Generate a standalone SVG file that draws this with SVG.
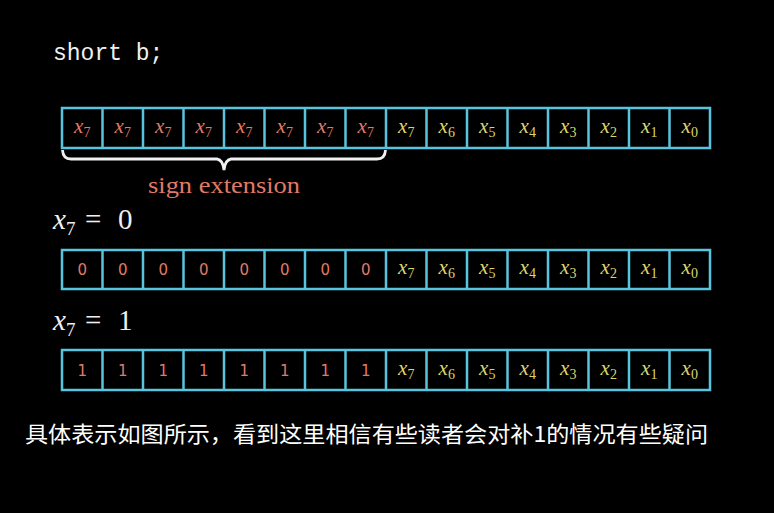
<svg xmlns="http://www.w3.org/2000/svg" width="774" height="513" viewBox="0 0 774 513">
<style>
.cell{fill:none;stroke:#58c4dd;stroke-width:2.5}
.v{font-family:"Liberation Serif","DejaVu Serif",serif;font-size:21px;text-anchor:middle}
.v .x{font-style:italic}
.v .s{font-size:14px}
.r{fill:#e07a68}
.y{fill:#dcd46c}
.d{font-family:"DejaVu Sans","Liberation Sans",sans-serif;font-size:15px;text-anchor:middle;fill:#e07a68}
.eq{font-family:"Liberation Serif","DejaVu Serif",serif;font-size:29px;fill:#f0f0f0}
</style>
<rect width="774" height="513" fill="#000"/>
<text x="53" y="60" font-family="Liberation Mono,monospace" font-size="23" fill="#f0f0f0">short b;</text>

<g id="row1">
<rect x="62" y="108" width="648" height="40" class="cell"/>
<path class="cell" d="M102.5 108V148M143 108V148M183.5 108V148M224 108V148M264.5 108V148M305 108V148M345.5 108V148M386 108V148M426.5 108V148M467 108V148M507.5 108V148M548 108V148M588.5 108V148M629 108V148M669.5 108V148"/>
<text class="v r" x="82.25" y="133"><tspan class="x">x</tspan><tspan class="s" dy="4">7</tspan></text>
<text class="v r" x="122.75" y="133"><tspan class="x">x</tspan><tspan class="s" dy="4">7</tspan></text>
<text class="v r" x="163.25" y="133"><tspan class="x">x</tspan><tspan class="s" dy="4">7</tspan></text>
<text class="v r" x="203.75" y="133"><tspan class="x">x</tspan><tspan class="s" dy="4">7</tspan></text>
<text class="v r" x="244.25" y="133"><tspan class="x">x</tspan><tspan class="s" dy="4">7</tspan></text>
<text class="v r" x="284.75" y="133"><tspan class="x">x</tspan><tspan class="s" dy="4">7</tspan></text>
<text class="v r" x="325.25" y="133"><tspan class="x">x</tspan><tspan class="s" dy="4">7</tspan></text>
<text class="v r" x="365.75" y="133"><tspan class="x">x</tspan><tspan class="s" dy="4">7</tspan></text>
<text class="v y" x="406.25" y="133"><tspan class="x">x</tspan><tspan class="s" dy="4">7</tspan></text>
<text class="v y" x="446.75" y="133"><tspan class="x">x</tspan><tspan class="s" dy="4">6</tspan></text>
<text class="v y" x="487.25" y="133"><tspan class="x">x</tspan><tspan class="s" dy="4">5</tspan></text>
<text class="v y" x="527.75" y="133"><tspan class="x">x</tspan><tspan class="s" dy="4">4</tspan></text>
<text class="v y" x="568.25" y="133"><tspan class="x">x</tspan><tspan class="s" dy="4">3</tspan></text>
<text class="v y" x="608.75" y="133"><tspan class="x">x</tspan><tspan class="s" dy="4">2</tspan></text>
<text class="v y" x="649.25" y="133"><tspan class="x">x</tspan><tspan class="s" dy="4">1</tspan></text>
<text class="v y" x="689.75" y="133"><tspan class="x">x</tspan><tspan class="s" dy="4">0</tspan></text>
</g>

<g id="brace">
<path d="M62.5 150Q63 159 71 159L217 159Q223 160 224 170Q225 160 231 159L377 159Q385 159 385.5 150" fill="none" stroke="#f0f0f0" stroke-width="2.8"/>
<text x="224" y="193" font-family="Liberation Serif,serif" font-size="23" fill="#e07a68" text-anchor="middle" textLength="152" lengthAdjust="spacingAndGlyphs">sign extension</text>
</g>

<g id="label0"><text class="eq" y="229"><tspan x="53" font-style="italic">x</tspan><tspan font-size="19" dy="6">7</tspan><tspan x="85" dy="-6">=</tspan><tspan x="118">0</tspan></text></g>

<g id="row2">
<rect x="62" y="250" width="648" height="39" class="cell"/>
<path class="cell" d="M102.5 250V289M143 250V289M183.5 250V289M224 250V289M264.5 250V289M305 250V289M345.5 250V289M386 250V289M426.5 250V289M467 250V289M507.5 250V289M548 250V289M588.5 250V289M629 250V289M669.5 250V289"/>
<text class="d" x="82.25" y="275">0</text>
<text class="d" x="122.75" y="275">0</text>
<text class="d" x="163.25" y="275">0</text>
<text class="d" x="203.75" y="275">0</text>
<text class="d" x="244.25" y="275">0</text>
<text class="d" x="284.75" y="275">0</text>
<text class="d" x="325.25" y="275">0</text>
<text class="d" x="365.75" y="275">0</text>
<text class="v y" x="406.25" y="274"><tspan class="x">x</tspan><tspan class="s" dy="4">7</tspan></text>
<text class="v y" x="446.75" y="274"><tspan class="x">x</tspan><tspan class="s" dy="4">6</tspan></text>
<text class="v y" x="487.25" y="274"><tspan class="x">x</tspan><tspan class="s" dy="4">5</tspan></text>
<text class="v y" x="527.75" y="274"><tspan class="x">x</tspan><tspan class="s" dy="4">4</tspan></text>
<text class="v y" x="568.25" y="274"><tspan class="x">x</tspan><tspan class="s" dy="4">3</tspan></text>
<text class="v y" x="608.75" y="274"><tspan class="x">x</tspan><tspan class="s" dy="4">2</tspan></text>
<text class="v y" x="649.25" y="274"><tspan class="x">x</tspan><tspan class="s" dy="4">1</tspan></text>
<text class="v y" x="689.75" y="274"><tspan class="x">x</tspan><tspan class="s" dy="4">0</tspan></text>
</g>

<g id="label1"><text class="eq" y="330"><tspan x="53" font-style="italic">x</tspan><tspan font-size="19" dy="6">7</tspan><tspan x="85" dy="-6">=</tspan><tspan x="118">1</tspan></text></g>

<g id="row3">
<rect x="62" y="350" width="648" height="40" class="cell"/>
<path class="cell" d="M102.5 350V390M143 350V390M183.5 350V390M224 350V390M264.5 350V390M305 350V390M345.5 350V390M386 350V390M426.5 350V390M467 350V390M507.5 350V390M548 350V390M588.5 350V390M629 350V390M669.5 350V390"/>
<text class="d" x="82.25" y="376">1</text>
<text class="d" x="122.75" y="376">1</text>
<text class="d" x="163.25" y="376">1</text>
<text class="d" x="203.75" y="376">1</text>
<text class="d" x="244.25" y="376">1</text>
<text class="d" x="284.75" y="376">1</text>
<text class="d" x="325.25" y="376">1</text>
<text class="d" x="365.75" y="376">1</text>
<text class="v y" x="406.25" y="375"><tspan class="x">x</tspan><tspan class="s" dy="4">7</tspan></text>
<text class="v y" x="446.75" y="375"><tspan class="x">x</tspan><tspan class="s" dy="4">6</tspan></text>
<text class="v y" x="487.25" y="375"><tspan class="x">x</tspan><tspan class="s" dy="4">5</tspan></text>
<text class="v y" x="527.75" y="375"><tspan class="x">x</tspan><tspan class="s" dy="4">4</tspan></text>
<text class="v y" x="568.25" y="375"><tspan class="x">x</tspan><tspan class="s" dy="4">3</tspan></text>
<text class="v y" x="608.75" y="375"><tspan class="x">x</tspan><tspan class="s" dy="4">2</tspan></text>
<text class="v y" x="649.25" y="375"><tspan class="x">x</tspan><tspan class="s" dy="4">1</tspan></text>
<text class="v y" x="689.75" y="375"><tspan class="x">x</tspan><tspan class="s" dy="4">0</tspan></text>
</g>

<text x="25" y="442" font-family="'Noto Sans CJK SC',sans-serif" font-size="22" fill="#ffffff" textLength="683" lengthAdjust="spacingAndGlyphs">具体表示如图所示，看到这里相信有些读者会对补1的情况有些疑问</text>
</svg>
